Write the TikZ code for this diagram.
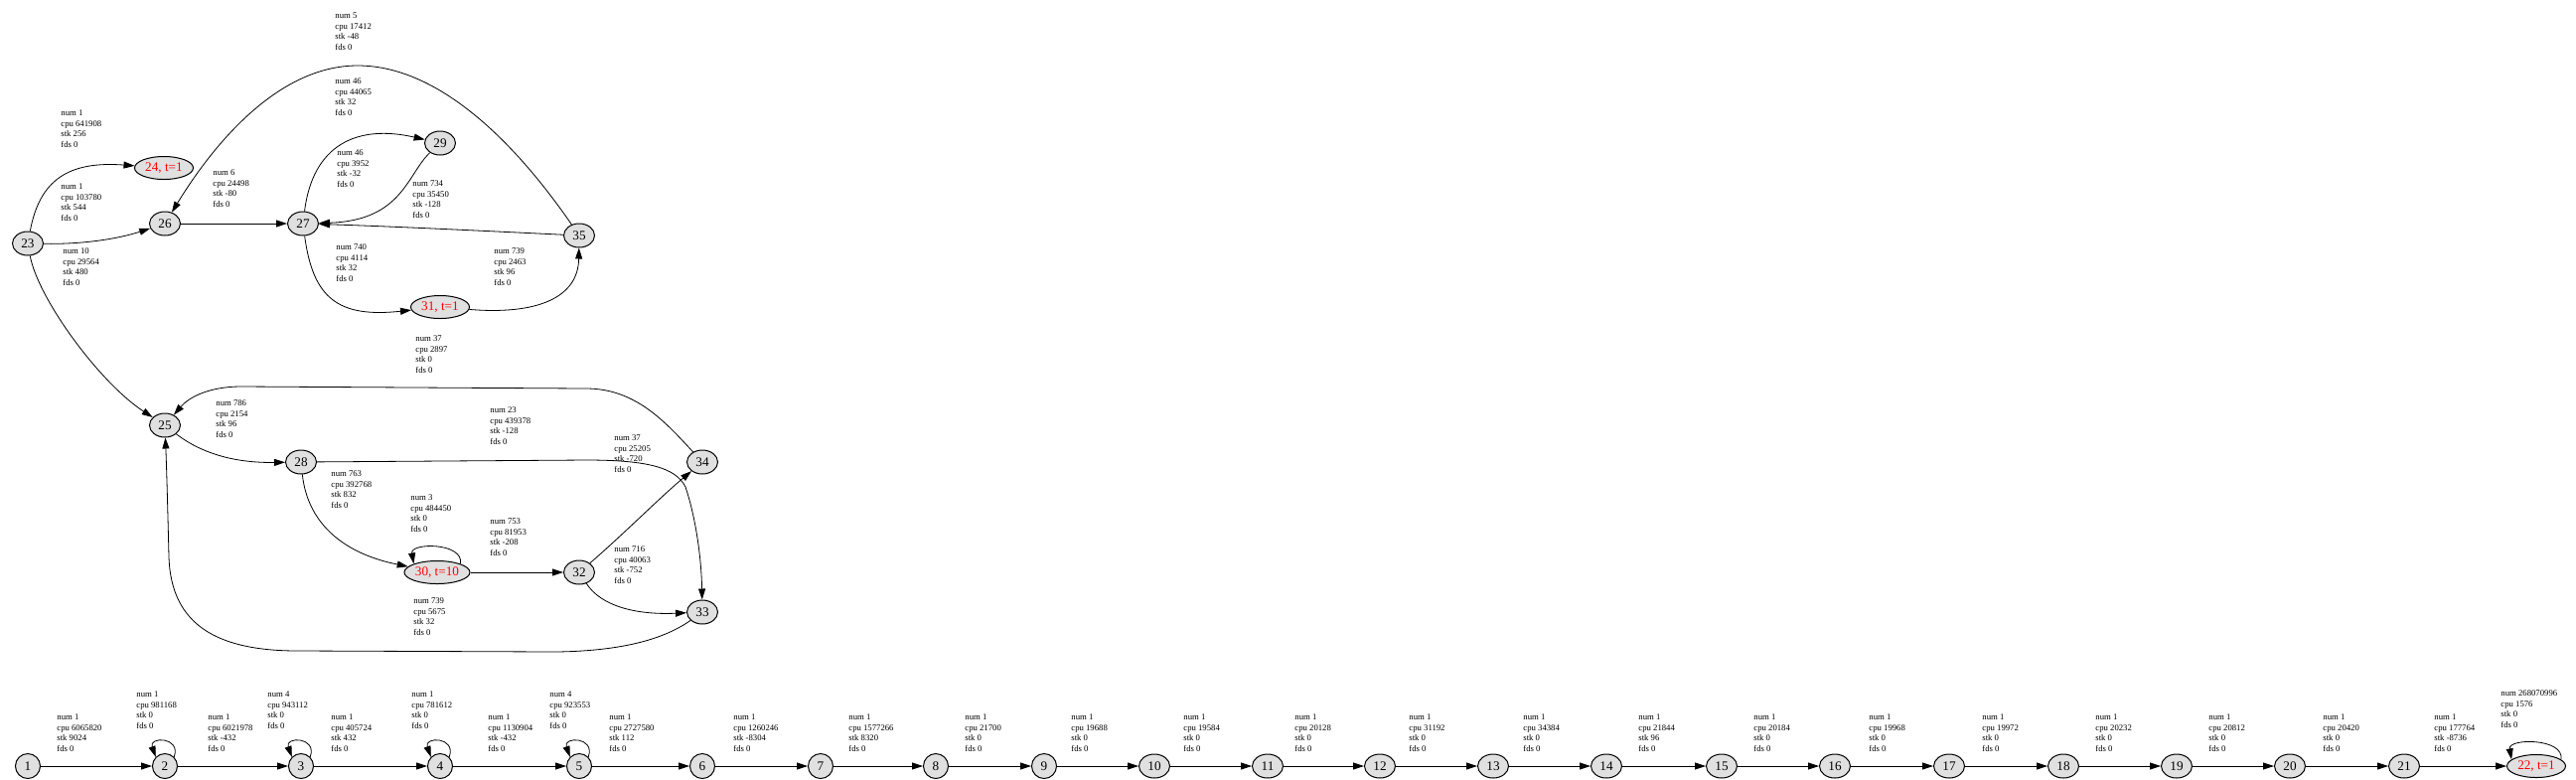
\documentclass[tikz,border=0pt]{standalone}
\usepackage{fontspec}
\setmainfont{Liberation Serif}
\usetikzlibrary{arrows.meta,shapes.geometric}
\definecolor{nfill}{RGB}{224,224,224}
\begin{document}
\begin{tikzpicture}[x=0.5pt,y=0.5pt,
  nd/.style={ellipse, draw, fill=nfill, line width=0.5pt, inner sep=0pt, font=\fontsize{6.6pt}{7pt}\selectfont},
  none/.style={nd, minimum width=12.5pt, minimum height=12.5pt},
  ntwo/.style={nd, minimum width=15.5pt, minimum height=12pt},
  nred/.style={nd, text=red, minimum width=29.5pt, minimum height=11.5pt},
  lbl/.style={anchor=west, align=left, inner sep=0pt, font=\fontsize{4.35pt}{5.25pt}\selectfont},
  arr/.style={-{Triangle[length=5.5pt,width=3.5pt]}, line width=0.4pt},
]
\fill[white] (0,0) rectangle (2593,-784);
\useasboundingbox (0,0) rectangle (2593,-784);

% upper graph nodes
\node[ntwo] (n23) at (28,-245) {23};
\node[nred] (n24) at (165,-169) {24, t=1};
\node[ntwo] (n26) at (166,-225) {26};
\node[ntwo] (n27) at (305,-225) {27};
\node[ntwo] (n29) at (443,-144) {29};
\node[ntwo] (n35) at (583,-237) {35};
\node[nred] (n31) at (443,-309) {31, t=1};
\node[ntwo] (n25) at (166,-428) {25};
\node[ntwo] (n28) at (303,-465) {28};
\node[ntwo] (n34) at (707,-465) {34};
\node[nred, minimum width=33pt] (n30) at (440,-576) {30, t=10};
\node[ntwo] (n32) at (583,-576) {32};
\node[ntwo] (n33) at (707,-616) {33};

% upper graph edges
\draw[arr] (n23) .. controls (40,-180) and (70,-162) .. (n24);
\draw[arr] (n23) .. controls (85,-246) and (120,-240) .. (n26);
\draw[arr] (n23) .. controls (38,-300) and (100,-385) .. (n25);
\draw[arr] (n26) -- (n27);
\draw[arr] (n35) .. controls (530,-160) and (450,-66) .. (360,-66) .. controls (280,-66) and (215,-145) .. (n26);
\draw[arr] (n27) .. controls (315,-145) and (360,-125) .. (n29);
\draw[arr] (n29) .. controls (410,-175) and (405,-222) .. (n27);
\draw[arr] (n35) .. controls (500,-233) and (400,-228) .. (n27);
\draw[arr] (n27) .. controls (315,-300) and (340,-320) .. (n31);
\draw[arr] (n31) .. controls (540,-317) and (582,-300) .. (n35);
\draw[arr] (n25) .. controls (205,-458) and (240,-466) .. (n28);
\draw[arr] (n34) .. controls (670,-425) and (640,-391) .. (590,-391) -- (243,-389) .. controls (210,-389) and (190,-400) .. (n25);
\draw[arr] (n28) .. controls (310,-530) and (350,-558) .. (n30);
\draw[arr] (n30.20) .. controls +(80:22) and +(100:22) .. (n30.160);
\draw[arr] (n30) -- (n32);
\draw[arr] (n32) .. controls (625,-540) and (665,-500) .. (n34);
\draw[arr] (n32) .. controls (605,-610) and (640,-619) .. (n33);
\draw[arr] (n28) -- (590,-463) .. controls (650,-463) and (680,-470) .. (690,-490) .. controls (700,-520) and (706,-560) .. (n33);
\draw[arr] (n33) .. controls (670,-642) and (630,-655) .. (560,-656) -- (300,-655) .. controls (220,-655) and (172,-630) .. (170,-560) .. controls (169,-520) and (168,-480) .. (n25);

% upper graph labels
\node[lbl] (u1) at (61,-129.5) {num 1\\cpu 641908\\stk 256\\fds 0};
\node[lbl] (u2) at (61,-203.5) {num 1\\cpu 103780\\stk 544\\fds 0};
\node[lbl] (u3) at (63,-268.5) {num 10\\cpu 29564\\stk 480\\fds 0};
\node[lbl] (u4) at (214,-189.5) {num 6\\cpu 24498\\stk -80\\fds 0};
\node[lbl] (u5) at (337,-31.5) {num 5\\cpu 17412\\stk -48\\fds 0};
\node[lbl] (u6) at (337,-97.5) {num 46\\cpu 44065\\stk 32\\fds 0};
\node[lbl] (u7) at (339,-169.5) {num 46\\cpu 3952\\stk -32\\fds 0};
\node[lbl] (u8) at (415,-200.5) {num 734\\cpu 35450\\stk -128\\fds 0};
\node[lbl] (u9) at (338,-264.5) {num 740\\cpu 4114\\stk 32\\fds 0};
\node[lbl] (u10) at (497,-268.5) {num 739\\cpu 2463\\stk 96\\fds 0};
\node[lbl] (u11) at (418,-356.5) {num 37\\cpu 2897\\stk 0\\fds 0};
\node[lbl] (u12) at (217,-421.5) {num 786\\cpu 2154\\stk 96\\fds 0};
\node[lbl] (u13) at (493,-428.5) {num 23\\cpu 439378\\stk -128\\fds 0};
\node[lbl] (u14) at (618,-456.5) {num 37\\cpu 25205\\stk -720\\fds 0};
\node[lbl] (u15) at (333,-492.5) {num 763\\cpu 392768\\stk 832\\fds 0};
\node[lbl] (u16) at (413,-516.5) {num 3\\cpu 484450\\stk 0\\fds 0};
\node[lbl] (u17) at (493,-540.5) {num 753\\cpu 81953\\stk -208\\fds 0};
\node[lbl] (u18) at (618,-568.5) {num 716\\cpu 40063\\stk -752\\fds 0};
\node[lbl] (u19) at (416,-620.5) {num 739\\cpu 5675\\stk 32\\fds 0};

% bottom row nodes
\node[none] (b1) at (28,-771) {1};
\node[none] (b2) at (166,-771) {2};
\node[none] (b3) at (303,-771) {3};
\node[none] (b4) at (443,-771) {4};
\node[none] (b5) at (583,-771) {5};
\node[none] (b6) at (707,-771) {6};
\node[none] (b7) at (826,-771) {7};
\node[none] (b8) at (942,-771) {8};
\node[none] (b9) at (1051,-771) {9};
\node[ntwo] (b10) at (1162,-771) {10};
\node[ntwo] (b11) at (1276,-771) {11};
\node[ntwo] (b12) at (1389,-771) {12};
\node[ntwo] (b13) at (1503,-771) {13};
\node[ntwo] (b14) at (1617,-771) {14};
\node[ntwo] (b15) at (1733,-771) {15};
\node[ntwo] (b16) at (1847,-771) {16};
\node[ntwo] (b17) at (1962,-771) {17};
\node[ntwo] (b18) at (2077,-771) {18};
\node[ntwo] (b19) at (2191,-771) {19};
\node[ntwo] (b20) at (2305,-771) {20};
\node[ntwo] (b21) at (2420,-771) {21};
\node[nred] (b22) at (2553,-771) {22, t=1};

% bottom row edges
\draw[arr] (b1) -- (b2);
\draw[arr] (b2) -- (b3);
\draw[arr] (b3) -- (b4);
\draw[arr] (b4) -- (b5);
\draw[arr] (b5) -- (b6);
\draw[arr] (b6) -- (b7);
\draw[arr] (b7) -- (b8);
\draw[arr] (b8) -- (b9);
\draw[arr] (b9) -- (b10);
\draw[arr] (b10) -- (b11);
\draw[arr] (b11) -- (b12);
\draw[arr] (b12) -- (b13);
\draw[arr] (b13) -- (b14);
\draw[arr] (b14) -- (b15);
\draw[arr] (b15) -- (b16);
\draw[arr] (b16) -- (b17);
\draw[arr] (b17) -- (b18);
\draw[arr] (b18) -- (b19);
\draw[arr] (b19) -- (b20);
\draw[arr] (b20) -- (b21);
\draw[arr] (b21) -- (b22);
\draw[arr] (b2.45) .. controls +(70:22) and +(110:22) .. (b2.135);
\draw[arr] (b3.45) .. controls +(70:22) and +(110:22) .. (b3.135);
\draw[arr] (b4.45) .. controls +(70:22) and +(110:22) .. (b4.135);
\draw[arr] (b5.45) .. controls +(70:22) and +(110:22) .. (b5.135);
\draw[arr] (b22.15) .. controls +(80:22) and +(100:22) .. (b22.165);

% bottom row labels
\node[lbl] (d1) at (57,-737.5) {num 1\\cpu 6065820\\stk 9024\\fds 0};
\node[lbl] (p2) at (137,-714.5) {num 1\\cpu 981168\\stk 0\\fds 0};
\node[lbl] (d2) at (209,-737.5) {num 1\\cpu 6021978\\stk -432\\fds 0};
\node[lbl] (p3) at (269,-714.5) {num 4\\cpu 943112\\stk 0\\fds 0};
\node[lbl] (d3) at (333,-737.5) {num 1\\cpu 405724\\stk 432\\fds 0};
\node[lbl] (p4) at (414,-714.5) {num 1\\cpu 781612\\stk 0\\fds 0};
\node[lbl] (d4) at (491,-737.5) {num 1\\cpu 1130904\\stk -432\\fds 0};
\node[lbl] (p5) at (553,-714.5) {num 4\\cpu 923553\\stk 0\\fds 0};
\node[lbl] (d5) at (613,-737.5) {num 1\\cpu 2727580\\stk 112\\fds 0};
\node[lbl] (d6) at (738,-737.5) {num 1\\cpu 1260246\\stk -8304\\fds 0};
\node[lbl] (d7) at (854,-737.5) {num 1\\cpu 1577266\\stk 8320\\fds 0};
\node[lbl] (d8) at (971,-737.5) {num 1\\cpu 21700\\stk 0\\fds 0};
\node[lbl] (d9) at (1078,-737.5) {num 1\\cpu 19688\\stk 0\\fds 0};
\node[lbl] (d10) at (1191,-737.5) {num 1\\cpu 19584\\stk 0\\fds 0};
\node[lbl] (d11) at (1303,-737.5) {num 1\\cpu 20128\\stk 0\\fds 0};
\node[lbl] (d12) at (1418,-737.5) {num 1\\cpu 31192\\stk 0\\fds 0};
\node[lbl] (d13) at (1533,-737.5) {num 1\\cpu 34384\\stk 0\\fds 0};
\node[lbl] (d14) at (1649,-737.5) {num 1\\cpu 21844\\stk 96\\fds 0};
\node[lbl] (d15) at (1765,-737.5) {num 1\\cpu 20184\\stk 0\\fds 0};
\node[lbl] (d16) at (1881,-737.5) {num 1\\cpu 19968\\stk 0\\fds 0};
\node[lbl] (d17) at (1995,-737.5) {num 1\\cpu 19972\\stk 0\\fds 0};
\node[lbl] (d18) at (2109,-737.5) {num 1\\cpu 20232\\stk 0\\fds 0};
\node[lbl] (d19) at (2223,-737.5) {num 1\\cpu 20812\\stk 0\\fds 0};
\node[lbl] (d20) at (2338,-737.5) {num 1\\cpu 20420\\stk 0\\fds 0};
\node[lbl] (d21) at (2450,-737.5) {num 1\\cpu 177764\\stk -8736\\fds 0};
\node[lbl] (p22) at (2517,-713.5) {num 268070996\\cpu 1576\\stk 0\\fds 0};
\end{tikzpicture}
\end{document}
